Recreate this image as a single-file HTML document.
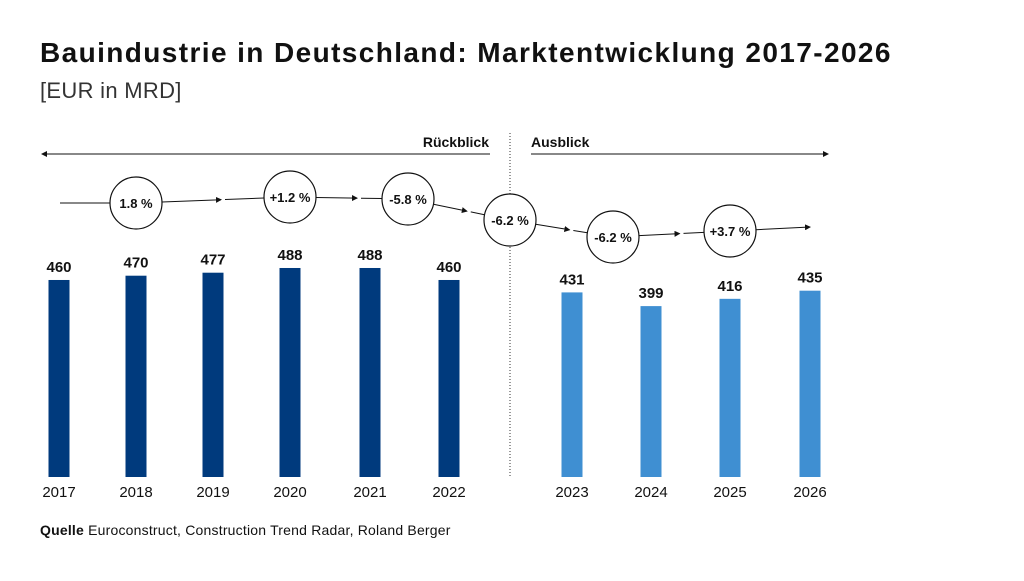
<!DOCTYPE html>
<html><head><meta charset="utf-8"><style>
body{margin:0;background:#fff;font-family:"Liberation Sans",sans-serif;}
svg text{font-family:"Liberation Sans",sans-serif;}
</style></head><body>
<svg width="1024" height="576" viewBox="0 0 1024 576">
<defs><marker id="ah" markerWidth="6" markerHeight="6" refX="5" refY="3" orient="auto"><path d="M0,0 L6,3 L0,6z" fill="#111"/></marker></defs>
<text x="40" y="62" font-size="28" font-weight="bold" fill="#111" letter-spacing="1.4">Bauindustrie in Deutschland: Marktentwicklung 2017-2026</text>
<text x="40" y="98" font-size="22" fill="#333" letter-spacing="0.3">[EUR in MRD]</text>
<line x1="490" y1="154" x2="42" y2="154" stroke="#111" stroke-width="1" marker-end="url(#ah)"/>
<text x="489" y="147" font-size="14" font-weight="bold" text-anchor="end" fill="#111">Rückblick</text>
<line x1="531" y1="154" x2="828" y2="154" stroke="#111" stroke-width="1" marker-end="url(#ah)"/>
<text x="531" y="147" font-size="14" font-weight="bold" fill="#111">Ausblick</text>
<line x1="510" y1="133" x2="510" y2="478" stroke="#333" stroke-width="1" stroke-dasharray="1,2"/>
<g id="bars"></g><g id="growth"></g>
<text x="40" y="535" font-size="14" fill="#111" letter-spacing="0.2"><tspan font-weight="bold">Quelle</tspan> Euroconstruct, Construction Trend Radar, Roland Berger</text>
</svg>
<script>
const years=["2017","2018","2019","2020","2021","2022","2023","2024","2025","2026"];
const values=[460,470,477,488,488,460,431,399,416,435];
const growthLabels=["1.8 %","+1.2 %","-5.8 %","-6.2 %","-6.2 %","+3.7 %"];
const growthX=[136,290,408,510,613,730];
const growthY=[203,197,199,220,237,231];
const NS="http://www.w3.org/2000/svg";
const xCenters=[59,136,213,290,370,449,572,651,730,810];
function yScale(v){return 477-v*0.4283;}
const bars=document.getElementById('bars');
function mk(t,a,p){const e=document.createElementNS(NS,t);for(const k in a)e.setAttribute(k,a[k]);p.appendChild(e);return e;}
values.forEach((v,i)=>{
 const x=xCenters[i],y=yScale(v);
 const r=mk('rect',{x:x-10.5,y:y,width:21,height:477-y,fill:i<6?'#003a7d':'#3f8fd2'},bars);
 
 
 const t=mk('text',{x:x,y:y-8,'font-size':15,'font-weight':'bold','text-anchor':'middle',fill:'#111'},bars);t.textContent=v;
 
 
 const yl=mk('text',{x:x,y:497,'font-size':15,'text-anchor':'middle',fill:'#111'},bars);yl.textContent=years[i];
 
 
});
const g=document.getElementById('growth');
const pts=[[60,203]].concat(growthX.map((x,i)=>[x,growthY[i]])).concat([[810,227]]);
const R=26;
for(let i=0;i<pts.length-1;i++){
 const [x1,y1]=pts[i],[x2,y2]=pts[i+1];
 const dx=x2-x1,dy=y2-y1,d=Math.hypot(dx,dy),ux=dx/d,uy=dy/d;
 const s=i==0?0:R, e=i==pts.length-2?0:R;
 const mx=x1+ux*s, my=y1+uy*s, ex=x2-ux*e, ey=y2-uy*e;
 if(i==0){
  const l0=mk('line',{x1:mx,y1:my,x2:ex,y2:ey,stroke:'#111','stroke-width':1},g);
  
  
  continue;
 }
 const mid=[(mx+ex)/2,(my+ey)/2];
 const last=i==pts.length-2;
 const l1=mk('line',{x1:mx,y1:my,x2:last?ex:mid[0]+ux*8,y2:last?ey:mid[1]+uy*8,stroke:'#111','stroke-width':1,'marker-end':'url(#ah)'},g);
 
 
 if(!last){const l2=mk('line',{x1:mid[0]+ux*12,y1:mid[1]+uy*12,x2:ex,y2:ey,stroke:'#111','stroke-width':1},g);
 
 }
}
growthLabels.forEach((lab,i)=>{
 const c=mk('circle',{cx:growthX[i],cy:growthY[i],r:R,fill:'#fff',stroke:'#111','stroke-width':1.2},g);
 
 
 const t=mk('text',{x:growthX[i],y:growthY[i]+5,'font-size':13,'font-weight':'bold','text-anchor':'middle',fill:'#111'},g);t.textContent=lab;
 
 
});
</script>
</body></html>
